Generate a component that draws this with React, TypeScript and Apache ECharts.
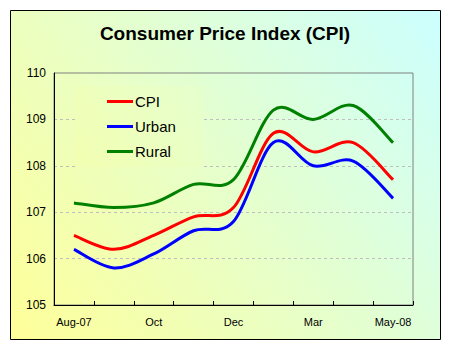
import React, { useEffect, useRef } from "react";
import * as echarts from "echarts";

const categories = ["Aug-07", "Sep", "Oct", "Nov", "Dec", "Feb", "Mar", "Apr", "May-08"];
const cpiValues = [106.5, 106.2, 106.5, 106.9, 107.1, 108.7, 108.3, 108.5, 107.7];
const urbanValues = [106.2, 105.8, 106.1, 106.6, 106.8, 108.5, 108.0, 108.1, 107.3];
const ruralValues = [107.2, 107.1, 107.2, 107.6, 107.7, 109.2, 109.0, 109.3, 108.5];
const yTicks = { min: 105, max: 110, interval: 1 };

const FONT = 'Arial, "Liberation Sans", sans-serif';
const LINE_ICON = "path://M0,0 L26,0 L26,3 L0,3 Z";

export default function App() {
  const ref = useRef<HTMLDivElement>(null);
  useEffect(() => {
    document.body.style.margin = "0";
    if (!ref.current) return;
    const chart = echarts.init(ref.current, null, { renderer: "svg" });
    const bg = () =>
      new echarts.graphic.LinearGradient(
        10, 339, 440, 10,
        [
          { offset: 0, color: "#FFFF99" },
          { offset: 1, color: "#CCFFFF" },
        ],
        true
      );
    // Smoothed line (Catmull-Rom style Bezier, like a spreadsheet's smoothed line),
    // every point placed through the axes' scales with api.coord.
    const mk = (name: string, values: number[], color: string) => ({
      name,
      type: "custom",
      coordinateSystem: "cartesian2d",
      data: values.map((v, i) => [i, v]),
      encode: { x: 0, y: 1 },
      itemStyle: { color },
      clip: false,
      z: 3,
      renderItem: (params: any, api: any) => {
        if (params.dataIndex !== 0) return null;
        const n = values.length;
        const pts = values.map((v, i) => api.coord([i, v]));
        let d = `M${pts[0][0]},${pts[0][1]}`;
        for (let i = 0; i < n - 1; i++) {
          const p0 = pts[Math.max(i - 1, 0)];
          const p1 = pts[i];
          const p2 = pts[i + 1];
          const p3 = pts[Math.min(i + 2, n - 1)];
          const c1x = p1[0] + (p2[0] - p0[0]) / 6;
          const c1y = p1[1] + (p2[1] - p0[1]) / 6;
          const c2x = p2[0] - (p3[0] - p1[0]) / 6;
          const c2y = p2[1] - (p3[1] - p1[1]) / 6;
          d += ` C${c1x},${c1y} ${c2x},${c2y} ${p2[0]},${p2[1]}`;
        }
        return {
          type: "path",
          shape: { pathData: d },
          style: { fill: "none", stroke: color, lineWidth: 3, lineJoin: "round" },
          silent: true,
        };
      },
    });
    chart.setOption({
      animation: false,
      backgroundColor: "#FFFFFF",
      textStyle: { fontFamily: FONT },
      graphic: [
        {
          type: "rect",
          z: -10,
          silent: true,
          shape: { x: 10.5, y: 10.5, width: 430, height: 329 },
          style: { fill: bg(), stroke: "#000000", lineWidth: 1 },
        },
      ],
      title: {
        text: "Consumer Price Index (CPI)",
        left: "center",
        top: 19,
        textStyle: { fontFamily: FONT, fontSize: 19, fontWeight: "bold", color: "#000000" },
      },
      legend: {
        orient: "vertical",
        left: 75,
        top: 86,
        padding: [8, 28, 8, 32],
        itemGap: 10,
        itemWidth: 26,
        itemHeight: 14,
        symbolKeepAspect: true,
        backgroundColor: bg(),
        textStyle: { fontFamily: FONT, fontSize: 15, color: "#000000", padding: [0, 0, 0, -3] },
        data: [
          { name: "CPI", icon: LINE_ICON },
          { name: "Urban", icon: LINE_ICON },
          { name: "Rural", icon: LINE_ICON },
        ],
      },
      grid: {
        left: 54,
        right: 37,
        top: 73,
        bottom: 45,
        show: true,
        borderColor: "#808080",
        borderWidth: 1,
        backgroundColor: "transparent",
        containLabel: false,
        outerBoundsMode: "none",
      },
      xAxis: {
        type: "category",
        data: categories,
        boundaryGap: true,
        axisLine: { lineStyle: { color: "#000000", width: 1 } },
        axisTick: { show: true, inside: true, length: 4, interval: 0, lineStyle: { color: "#000000" } },
        axisLabel: { interval: 1, color: "#000000", fontSize: 11, fontFamily: FONT, margin: 11 },
        splitLine: { show: false },
      },
      yAxis: {
        type: "value",
        min: yTicks.min,
        max: yTicks.max,
        interval: yTicks.interval,
        axisLine: { show: true, lineStyle: { color: "#000000", width: 1 } },
        axisTick: { show: false },
        axisLabel: { color: "#000000", fontSize: 12, fontFamily: FONT, margin: 8 },
        splitLine: {
          show: true,
          showMinLine: false,
          showMaxLine: false,
          lineStyle: { color: "#BFBFBF", type: [3, 3], width: 1 },
        },
      },
      series: [
        mk("CPI", cpiValues, "#FF0000"),
        mk("Urban", urbanValues, "#0000FF"),
        mk("Rural", ruralValues, "#008000"),
      ],
    });
    return () => chart.dispose();
  }, []);
  return <div ref={ref} style={{ width: 450, height: 350 }} />;
}
